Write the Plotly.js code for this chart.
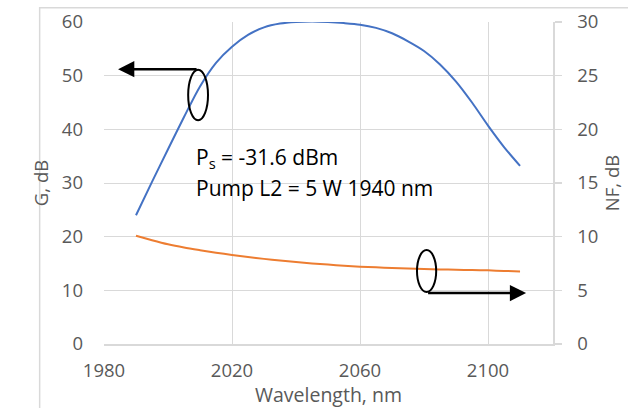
<!DOCTYPE html>
<html>
<head>
<meta charset="utf-8">
<script src="https://cdn.plot.ly/plotly-3.0.1.min.js"></script>
<style>html,body{margin:0;padding:0;background:#fff;}#chart{width:628px;height:408px;}</style>
</head>
<body>
<div id="chart"></div>
<script>
// Wavelength (nm)
const wavelength = [1990,1995,2000,2005,2010,2015,2020,2025,2030,2035,2040,2045,2050,2055,2060,2065,2070,2075,2080,2085,2090,2095,2100,2105,2110];
// Gain G, dB (left axis)
const gainDb = [24.0,30.2,36.3,42.3,48.0,52.4,55.4,57.6,59.0,59.7,60.0,60.1,60.0,59.8,59.5,58.9,57.9,56.4,54.6,52.1,48.9,45.0,40.7,36.7,33.2];
// Noise figure NF, dB (right axis)
const nfDb = [10.09,9.67,9.29,8.99,8.74,8.51,8.29,8.10,7.93,7.78,7.64,7.51,7.40,7.29,7.20,7.14,7.08,7.03,6.99,6.95,6.92,6.89,6.86,6.81,6.76];
// Tick values
const xTicks = [1980,2020,2060,2100];
const gTicks = [0,10,20,30,40,50,60];
const nfTicks = [0,5,10,15,20,25,30];

const FONT = '"Open Sans", "Liberation Sans", sans-serif';
const GRID = '#d9d9d9';
const TICKC = '#595959';

const traces = [
  {x: wavelength, y: gainDb, type: 'scatter', mode: 'lines', name: 'G',
   line: {color: '#4472C4', width: 2, shape: 'spline', smoothing: 0.8}, yaxis: 'y'},
  {x: wavelength, y: nfDb, type: 'scatter', mode: 'lines', name: 'NF',
   line: {color: '#ED7D31', width: 2, shape: 'spline', smoothing: 0.8}, yaxis: 'y2'}
];

const layout = {
  width: 628, height: 408,
  margin: {l: 104, r: 75, t: 22, b: 64, pad: 0},
  paper_bgcolor: '#fff', plot_bgcolor: '#fff',
  showlegend: false,
  font: {family: FONT, size: 18, color: TICKC},
  xaxis: {
    range: [1980, 2120.3], tickmode: 'array', tickvals: xTicks,
    showgrid: true, gridcolor: GRID, gridwidth: 1,
    showline: true, linecolor: GRID, linewidth: 1.5, zeroline: false,
    ticks: '', ticklabelstandoff: 9,
    tickfont: {family: FONT, size: 18.5, color: TICKC},
    title: {text: 'Wavelength, nm', font: {family: FONT, size: 19.5, color: TICKC}, standoff: 10}
  },
  yaxis: {
    range: [0, 60], tickmode: 'array', tickvals: gTicks,
    showgrid: true, gridcolor: GRID, gridwidth: 1, zeroline: false,
    showline: false, ticks: '', ticklabelstandoff: 20,
    tickfont: {family: FONT, size: 18.5, color: TICKC},
    title: {text: 'G, dB', font: {family: FONT, size: 18.5, color: TICKC}, standoff: 8}
  },
  yaxis2: {
    range: [0, 30], tickmode: 'array', tickvals: nfTicks,
    overlaying: 'y', side: 'right',
    showgrid: false, zeroline: false,
    showline: true, linecolor: GRID, linewidth: 1.5,
    ticks: 'outside', ticklen: 7, tickcolor: GRID, tickwidth: 1.5,
    ticklabelstandoff: 12,
    tickfont: {family: FONT, size: 18.5, color: TICKC},
    title: {text: 'NF, dB', font: {family: FONT, size: 18.5, color: TICKC}, standoff: 8}
  },
  shapes: [
    {type: 'rect', xref: 'paper', yref: 'paper', x0: -0.1433, x1: 1.2, y0: -0.3, y1: 1.0441,
     line: {color: GRID, width: 1.5}, fillcolor: 'rgba(0,0,0,0)', layer: 'below'},
    {type: 'circle', xref: 'x', yref: 'y', x0: 2006.3, x1: 2012.5, y0: 41.7, y1: 51.1,
     line: {color: '#000', width: 2}},
    {type: 'circle', xref: 'x', yref: 'y', x0: 2077.8, x1: 2083.8, y0: 9.7, y1: 17.5,
     line: {color: '#000', width: 2}}
  ],
  annotations: [
    {xref: 'x', yref: 'y', x: 1984.4, y: 51.2, axref: 'x', ayref: 'y', ax: 2009.4, ay: 51.2,
     text: '', showarrow: true, arrowhead: 2, arrowsize: 1.3, arrowwidth: 2.5, arrowcolor: '#000',
     standoff: 0, startstandoff: 0},
    {xref: 'x', yref: 'y', x: 2111.9, y: 9.5, axref: 'x', ayref: 'y', ax: 2080.8, ay: 9.5,
     text: '', showarrow: true, arrowhead: 2, arrowsize: 1.3, arrowwidth: 2.5, arrowcolor: '#000',
     standoff: 0, startstandoff: 0},
    {xref: 'x', yref: 'y', x: 2008.2, y: 34.6, xanchor: 'left', yanchor: 'middle', align: 'left',
     showarrow: false, text: 'P<sub>s</sub> = -31.6 dBm',
     font: {family: FONT, size: 21, color: '#000'}},
    {xref: 'x', yref: 'y', x: 2008.2, y: 29.1, xanchor: 'left', yanchor: 'middle', align: 'left',
     showarrow: false, text: 'Pump L2 = 5 W 1940 nm',
     font: {family: FONT, size: 21, color: '#000'}}
  ]
};

Plotly.newPlot('chart', traces, layout, {staticPlot: true, displayModeBar: false});
</script>
</body>
</html>
